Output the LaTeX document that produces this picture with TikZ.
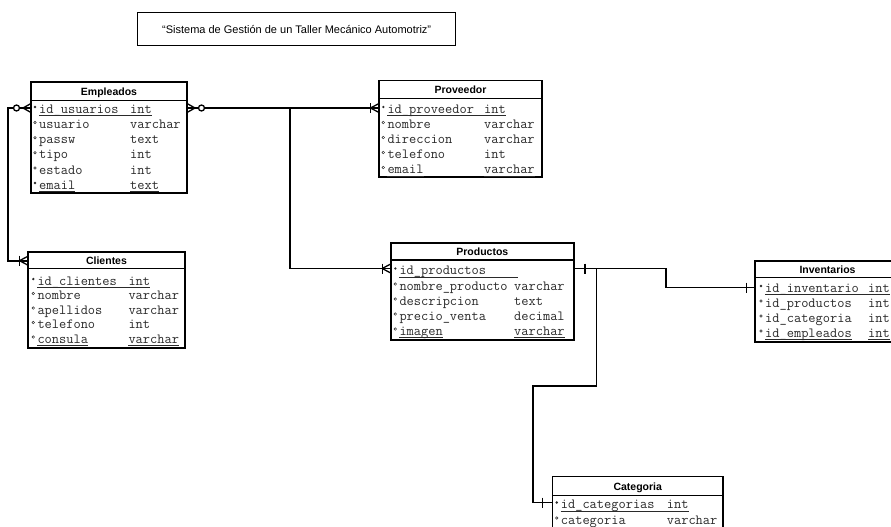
\documentclass[tikz,border=0pt]{standalone}
\usepackage{fontspec}
\usetikzlibrary{calc}
\newfontfamily\hdrf{Liberation Sans}
\definecolor{rowgray}{HTML}{2A2A2A}

% table box: #1 name, #2 x1, #3 y1, #4 x2, #5 y2, #6 header height, #7 title
\newcommand\ertab[7]{%
  \node[tabbox, minimum width={#4-#2}, minimum height={#5-#3}, anchor=north west] (#1) at (#2,#3) {};
  \draw[hdrline] ($(#1.north west)+(0,#6)$) -- ($(#1.north east)+(0,#6)$);
  \node[hdrtxt] (#1-t) at ($(#1.north)+(0,#6/2+4)$) {#7};}
% row: #1 id, #2 y, #3 name x, #4 type x, #5 field, #6 type, #7 marker style
\newcommand\errow[7]{%
  \node[rowtxt] (#1) at (#3,#2) {#5};
  \node[rowtxt] (#1-ty) at (#4,#2) {#6};
  \path[#7] (#3-4,#2-4) circle[radius=1.3pt];}
\newcommand\pkline[1]{%
  \draw[uline] ($(#1.base west)+(0,2.5)$) -- ($(#1-ty.base east)+(0,2.5)$);}
\newcommand\lastline[1]{%
  \draw[uline] ($(#1.base west)+(0,2.5)$) -- ($(#1.base east)+(0,2.5)$);
  \draw[uline] ($(#1-ty.base west)+(0,2.5)$) -- ($(#1-ty.base east)+(0,2.5)$);}
% zero or many
\newcommand\cfzm[2]{%
  \begin{scope}[shift={(#1)}, xscale=#2]
    \draw[sym] (0,-4.5) -- (8,0) -- (0,4.5);
    \draw[sym, fill=white] (14.5,0) circle[radius=3pt];
  \end{scope}}
% one or many
\newcommand\cfom[2]{%
  \begin{scope}[shift={(#1)}, xscale=#2]
    \draw[sym] (0,-4.5) -- (8.5,0) -- (0,4.5);
    \draw[sym] (8.5,-5) -- (8.5,5);
  \end{scope}}
% one
\newcommand\cfone[3]{%
  \begin{scope}[shift={(#1)}, xscale=#2]
    \draw[sym] (#3,-5) -- (#3,5);
  \end{scope}}

\begin{document}
\begin{tikzpicture}[x=1pt,y=-1pt,
  tabbox/.style={draw, line width=1.7pt, fill=white, inner sep=0pt, outer sep=0pt},
  hdrline/.style={line width=1.3pt},
  hdrtxt/.style={font=\hdrf\bfseries\fontsize{10.5}{12}\selectfont, inner sep=0pt, anchor=base},
  rowtxt/.style={font=\ttfamily\fontsize{14}{16}\selectfont, text=rowgray, anchor=mid west, inner sep=0pt},
  dotfull/.style={fill=rowgray},
  dotopen/.style={draw=rowgray, line width=0.5pt},
  uline/.style={line width=0.9pt, draw=rowgray},
  conn/.style={line width=1.6pt},
  sym/.style={line width=1.3pt},
  titlebox/.style={draw, line width=1.3pt, anchor=north west, inner sep=0pt,
    font=\hdrf\fontsize{11}{13}\selectfont}]
\useasboundingbox (0,0) rectangle (891,527);
\fill[white] (0,0) rectangle (891,527);
\clip (0,0) rectangle (891,527);

\node[titlebox, minimum width=318pt, minimum height=33pt] (title) at (137,12)
  {“Sistema de Gestión de un Taller Mecánico Automotriz”};

% ---------- Empleados
\ertab{emp}{31}{82}{187}{193}{18.5}{Empleados}
\errow{e1}{111}{39}{130}{id\_usuarios}{int}{dotfull}
\errow{e2}{126.5}{39}{130}{usuario}{varchar}{dotopen}
\errow{e3}{141.7}{39}{130}{passw}{text}{dotopen}
\errow{e4}{156.8}{39}{130}{tipo}{int}{dotopen}
\errow{e5}{172}{39}{130}{estado}{int}{dotopen}
\errow{e6}{187}{39}{130}{email}{text}{dotfull}
\pkline{e1}\lastline{e6}

% ---------- Proveedor
\ertab{prov}{379}{80.5}{542}{177}{17.8}{Proveedor}
\errow{p1}{111}{387.3}{484}{id\_proveedor}{int}{dotfull}
\errow{p2}{126.5}{387.3}{484}{nombre}{varchar}{dotopen}
\errow{p3}{141.5}{387.3}{484}{direccion}{varchar}{dotopen}
\errow{p4}{156.5}{387.3}{484}{telefono}{int}{dotopen}
\errow{p5}{171.5}{387.3}{484}{email}{varchar}{dotopen}
\pkline{p1}\lastline{p5}

% ---------- Clientes
\ertab{cli}{28}{251.7}{185}{348}{16.6}{Clientes}
\errow{c1}{283}{37.3}{128.3}{id\_clientes}{int}{dotfull}
\errow{c2}{297.5}{37.3}{128.3}{nombre}{varchar}{dotopen}
\errow{c3}{312}{37.3}{128.3}{apellidos}{varchar}{dotopen}
\errow{c4}{326.5}{37.3}{128.3}{telefono}{int}{dotopen}
\errow{c5}{341}{37.3}{128.3}{consula}{varchar}{dotopen}
\pkline{c1}\lastline{c5}

% ---------- Productos
\ertab{prod}{390.7}{243.3}{574}{340}{16.7}{Productos}
\errow{r1}{272.5}{399.3}{514}{id\_productos}{\hspace*{4pt}}{dotfull}
\errow{r2}{288}{399.3}{514}{nombre\_producto}{varchar}{dotopen}
\errow{r3}{303}{399.3}{514}{descripcion}{text}{dotopen}
\errow{r4}{318}{399.3}{514}{precio\_venta}{decimal}{dotopen}
\errow{r5}{333}{399.3}{514}{imagen}{varchar}{dotopen}
\pkline{r1}\lastline{r5}

% ---------- Inventarios
\ertab{inv}{755}{261}{900}{342}{16.7}{Inventarios}
\errow{i1}{290}{765}{868}{id\_inventario}{int}{dotfull}
\errow{i2}{305}{765}{868}{id\_productos}{int}{dotopen}
\errow{i3}{320}{765}{868}{id\_categoria}{int}{dotopen}
\errow{i4}{335}{765}{868}{id\_empleados}{int}{dotopen}
\pkline{i1}\lastline{i4}

% ---------- Categoria
\ertab{cat}{552.5}{476.5}{723}{545}{19}{Categoria}
\errow{k1}{506.5}{560.7}{666.7}{id\_categorias}{int}{dotfull}
\errow{k2}{522}{560.7}{666.7}{categoria}{varchar}{dotopen}
\pkline{k1}

% ---------- connection points
\coordinate (empL) at ($(emp.north west)+(0,26)$);
\coordinate (empR) at ($(emp.north east)+(0,26)$);
\coordinate (cliL) at ($(cli.north west)+(0,9)$);
\coordinate (provL) at ($(prov.north west)+(0,27.5)$);
\coordinate (prodL) at ($(prod.north west)+(0,25.2)$);
\coordinate (prodR) at ($(prod.north east)+(0,25.2)$);
\coordinate (invL) at ($(inv.north west)+(0,26.5)$);
\coordinate (catL) at ($(cat.north west)+(0,26)$);
\coordinate (brA) at ($(empR)+(103,0)$);
\coordinate (brB) at ($(prodR)+(22.5,0)$);

% ---------- connectors
\draw[conn] (empL) -- ++(-23,0) |- (cliL);
\draw[conn] (empR) -- (provL);
\draw[conn] (brA) |- (prodL);
\draw[conn] (prodR) -- ++(92,0) |- (invL);
\draw[conn] (brB) -- ++(0,117.5) -- ++(-63.5,0) |- (catL);

% ---------- end symbols
\cfzm{empL}{-1}
\cfzm{empR}{1}
\cfom{cliL}{-1}
\cfom{provL}{-1}
\cfom{prodL}{-1}
\cfone{prodR}{1}{11}
\cfone{invL}{-1}{8.5}
\cfone{catL}{-1}{10}
\end{tikzpicture}
\end{document}
